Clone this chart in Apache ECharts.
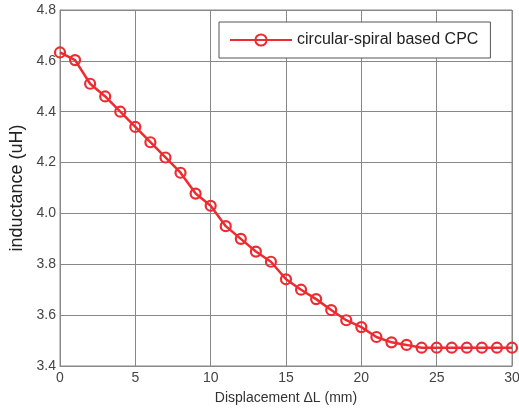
<!DOCTYPE html>
<html>
<head>
<meta charset="utf-8">
<script src="https://cdn.jsdelivr.net/npm/echarts@6/dist/echarts.min.js"></script>
<style>html,body{margin:0;padding:0;background:#fff}#c{width:519px;height:411px}</style>
</head>
<body>
<div id="c"></div>
<script>
const displacement = [0,1,2,3,4,5,6,7,8,9,10,11,12,13,14,15,16,17,18,19,20,21,22,23,24,25,26,27,28,29,30];
const inductance = [4.633,4.603,4.51,4.46,4.40,4.34,4.28,4.22,4.16,4.078,4.03,3.95,3.90,3.85,3.81,3.741,3.70,3.663,3.62,3.58,3.553,3.514,3.493,3.483,3.472,3.472,3.472,3.472,3.472,3.472,3.472];
const seriesName = 'circular-spiral based CPC';
const xTicks = [0,5,10,15,20,25,30];
const yTicks = [3.4,3.6,3.8,4.0,4.2,4.4,4.6,4.8];

const chart = echarts.init(document.getElementById('c'), null, {renderer:'canvas'});
chart.setOption({
  animation:false,
  backgroundColor:'#fff',
  grid:{left:60,right:7,top:10,bottom:45,show:true,borderColor:'#888',borderWidth:1,containLabel:false,outerBoundsMode:'none'},
  legend:{
    show:true,left:219,top:22,
    width:281,
    padding:[10,12,10,10],
    borderColor:'#555',borderWidth:1,backgroundColor:'#fff',
    itemWidth:62,itemHeight:14,itemGap:6,
    textStyle:{fontFamily:'Liberation Sans, Arial',fontSize:16,color:'#222'},
    data:[seriesName]
  },
  xAxis:{
    type:'value',min:xTicks[0],max:xTicks[xTicks.length-1],interval:5,
    name:'Displacement ΔL (mm)',nameLocation:'middle',nameGap:25,
    nameTextStyle:{fontFamily:'Liberation Sans, Arial',fontSize:14,color:'#333'},
    axisLine:{show:true,lineStyle:{color:'#888'}},
    axisTick:{show:false},
    axisLabel:{fontFamily:'Liberation Sans, Arial',fontSize:14,color:'#444',margin:5},
    splitLine:{show:true,lineStyle:{color:'#888',width:1}}
  },
  yAxis:{
    type:'value',min:yTicks[0],max:yTicks[yTicks.length-1],interval:0.2,
    name:'inductance (uH)',nameLocation:'middle',nameGap:32,
    nameTextStyle:{fontFamily:'Liberation Sans, Arial',fontSize:18,color:'#222'},
    axisLine:{show:true,lineStyle:{color:'#888'}},
    axisTick:{show:false},
    axisLabel:{fontFamily:'Liberation Sans, Arial',fontSize:14,color:'#444',margin:4,formatter:v=>v.toFixed(1)},
    splitLine:{show:true,lineStyle:{color:'#888',width:1}}
  },
  series:[{
    name:seriesName,type:'line',
    data:displacement.map((x,i)=>[x,inductance[i]]),
    symbol:'circle',symbolSize:10,
    lineStyle:{color:'#ee2b30',width:2.5},
    itemStyle:{color:'rgba(255,255,255,0)',borderWidth:2.2,borderColor:'#ee2b30'}
  }]
});
</script>
</body>
</html>
